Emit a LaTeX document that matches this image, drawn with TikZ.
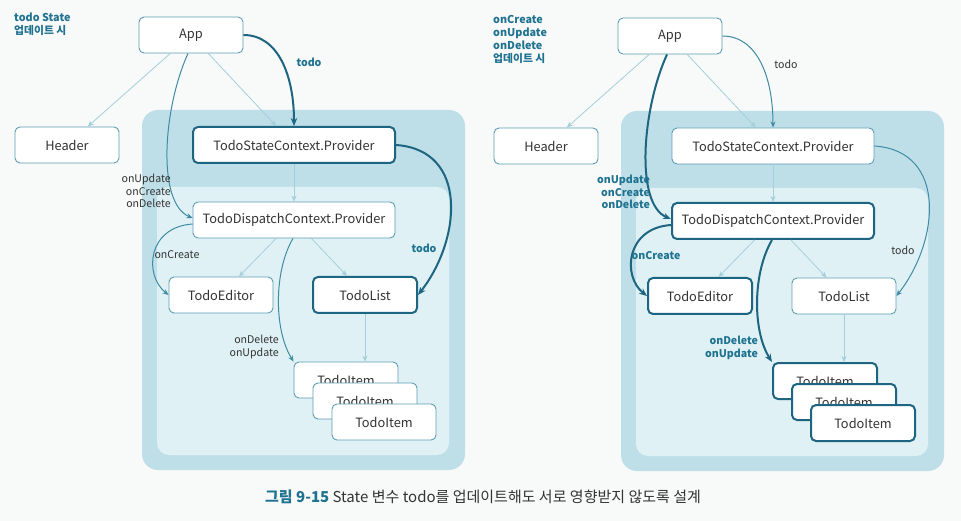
\documentclass[tikz,border=0pt]{standalone}
\usepackage{fontspec}
\setmainfont{Noto Sans CJK KR}
\usepackage{xcolor}
\usetikzlibrary{arrows.meta, positioning}

\definecolor{pagebg}{HTML}{F8F9F9}
\definecolor{outerbg}{HTML}{BEDFE8}
\definecolor{innerbg}{HTML}{DFF1F5}
\definecolor{boxline}{HTML}{5C9DB3}
\definecolor{darkteal}{HTML}{1D6580}
\definecolor{midline}{HTML}{3F8BA4}
\definecolor{lightline}{HTML}{A3CFDB}
\definecolor{labelteal}{HTML}{1F7390}
\definecolor{textgray}{HTML}{333333}

\begin{document}
\begin{tikzpicture}[
    x=1pt, y=-1pt,
    box/.style={rectangle, draw=boxline, fill=white, line width=0.9pt, rounded corners=5pt, minimum width=104pt, minimum height=36pt, font=\fontsize{12.8}{15}\selectfont, text=textgray},
    hbox/.style={box, draw=darkteal, line width=2pt},
    wide/.style={minimum width=202pt},
    link/.style={-{Stealth[length=6pt, width=5pt]}, draw=lightline, line width=0.8pt},
    flow/.style={-{Stealth[length=6pt, width=5pt]}, draw=midline, line width=1pt},
    hflow/.style={-{Stealth[length=8pt, width=6.5pt]}, draw=darkteal, line width=2pt},
    lbl/.style={font=\fontsize{10.6}{12.8}\selectfont, text=textgray, align=right, inner sep=0pt},
    hlbl/.style={lbl, font=\bfseries\fontsize{10.6}{12.8}\selectfont, text=labelteal},
    title/.style={font=\bfseries\fontsize{10.8}{13}\selectfont, text=labelteal, align=left, inner sep=0pt, anchor=north west}
]

\fill[pagebg] (0,0) rectangle (961,521);
\useasboundingbox (0,0) rectangle (961,521);

% ---------------- left: todo State update ----------------
\begin{scope}
\fill[outerbg, rounded corners=16pt] (142,110) rectangle (465,470);
\fill[innerbg, rounded corners=12pt] (157,187) rectangle (449,455);

\node[title] (ltitle) at (14,13) {todo State\\업데이트 시};

\node[box] (lapp) at (191,35) {App};
\node[box] (lheader) at (67,145) {Header};
\node[hbox, wide] (lstate) at (294,145) {TodoStateContext.Provider};
\node[box, wide] (ldisp) at (294,220) {TodoDispatchContext.Provider};
\node[box] (leditor) at (221,295) {TodoEditor};
\node[hbox] (llist) at (365,295) {TodoList};
\node[box] (litem1) at (346,380) {TodoItem};
\node[box] (litem2) at (365,401) {TodoItem};
\node[box] (litem3) at (384,422) {TodoItem};

% Connectors
\draw[link] (lapp) -- (lheader);
\draw[link] (lapp) -- (lstate);
\draw[link] (lstate) -- (ldisp);
\draw[link] (ldisp) -- (leditor);
\draw[link] (ldisp) -- (llist);
\draw[link] (llist.south) -- (llist.south |- litem1.north);

\draw[hflow] (lapp.east) .. controls +(35,0) and +(0,-50) .. (lstate.north);
\draw[hflow] (lstate.east) .. controls +(73,5) and +(43,-55) .. (llist.east);
\draw[flow] ([xshift=-3pt]lapp.south) .. controls +(-25,55) and +(-36,-15) .. ([yshift=2pt]ldisp.west);
\draw[flow] ([yshift=-4pt]ldisp.west) .. controls +(-45,3) and +(-25,-20) .. (leditor.west);
\draw[flow] ([xshift=-1pt]ldisp.south) .. controls +(-19,32) and +(-20,-32) .. (litem1.north west);

\node[hlbl] (ltodo1) at (309,62) {todo};
\node[hlbl] (ltodo2) at (424,248) {todo};
\node[lbl, anchor=east] (lfns) at (171,191) {onUpdate\\onCreate\\onDelete};
\node[lbl] (lcreate) at (177,255) {onCreate};
\node[lbl, anchor=east] (ldelete) at (279,347) {onDelete\\onUpdate};
\end{scope}

% ---------------- right: onCreate/onUpdate/onDelete update ----------------
\begin{scope}[shift={(479,1)}]
\fill[outerbg, rounded corners=16pt] (142,110) rectangle (465,470);
\fill[innerbg, rounded corners=12pt] (157,187) rectangle (449,455);

\node[title] (rtitle) at (14,14) {onCreate\\onUpdate\\onDelete\\업데이트 시};

\node[box] (rapp) at (191,35) {App};
\node[box] (rheader) at (67,145) {Header};
\node[box, wide] (rstate) at (294,145) {TodoStateContext.Provider};
\node[hbox, wide] (rdisp) at (294,220) {TodoDispatchContext.Provider};
\node[hbox] (reditor) at (221,295) {TodoEditor};
\node[box] (rlist) at (365,295) {TodoList};
\node[hbox] (ritem1) at (346,380) {TodoItem};
\node[hbox] (ritem2) at (365,401) {TodoItem};
\node[hbox] (ritem3) at (384,422) {TodoItem};

% Connectors
\draw[link] (rapp) -- (rheader);
\draw[link] (rapp) -- (rstate);
\draw[link] (rstate) -- (rdisp);
\draw[link] (rdisp) -- (reditor);
\draw[link] (rdisp) -- (rlist);
\draw[link] (rlist.south) -- (rlist.south |- ritem1.north);

\draw[flow] (rapp.east) .. controls +(35,0) and +(0,-50) .. (rstate.north);
\draw[flow] (rstate.east) .. controls +(73,5) and +(43,-55) .. (rlist.east);
\draw[hflow] ([xshift=-3pt]rapp.south) .. controls +(-25,55) and +(-36,-15) .. ([yshift=2pt]rdisp.west);
\draw[hflow] ([yshift=-4pt]rdisp.west) .. controls +(-45,3) and +(-25,-20) .. (reditor.west);
\draw[hflow] ([xshift=-1pt]rdisp.south) .. controls +(-19,32) and +(-20,-32) .. (ritem1.north west);

\node[lbl] (rtodo1) at (307,63) {todo};
\node[lbl] (rtodo2) at (424,249) {todo};
\node[hlbl, anchor=east] (rfns) at (171,191) {onUpdate\\onCreate\\onDelete};
\node[hlbl] (rcreate) at (177,255) {onCreate};
\node[hlbl, anchor=east] (rdelete) at (279,347) {onDelete\\onUpdate};
\end{scope}

% Caption
\node[font=\fontsize{15}{18}\selectfont, text=textgray] (caption) at (483,497)
  {\textcolor{labelteal}{\bfseries 그림 9-15} State 변수 todo를 업데이트해도 서로 영향받지 않도록 설계};

\end{tikzpicture}
\end{document}
